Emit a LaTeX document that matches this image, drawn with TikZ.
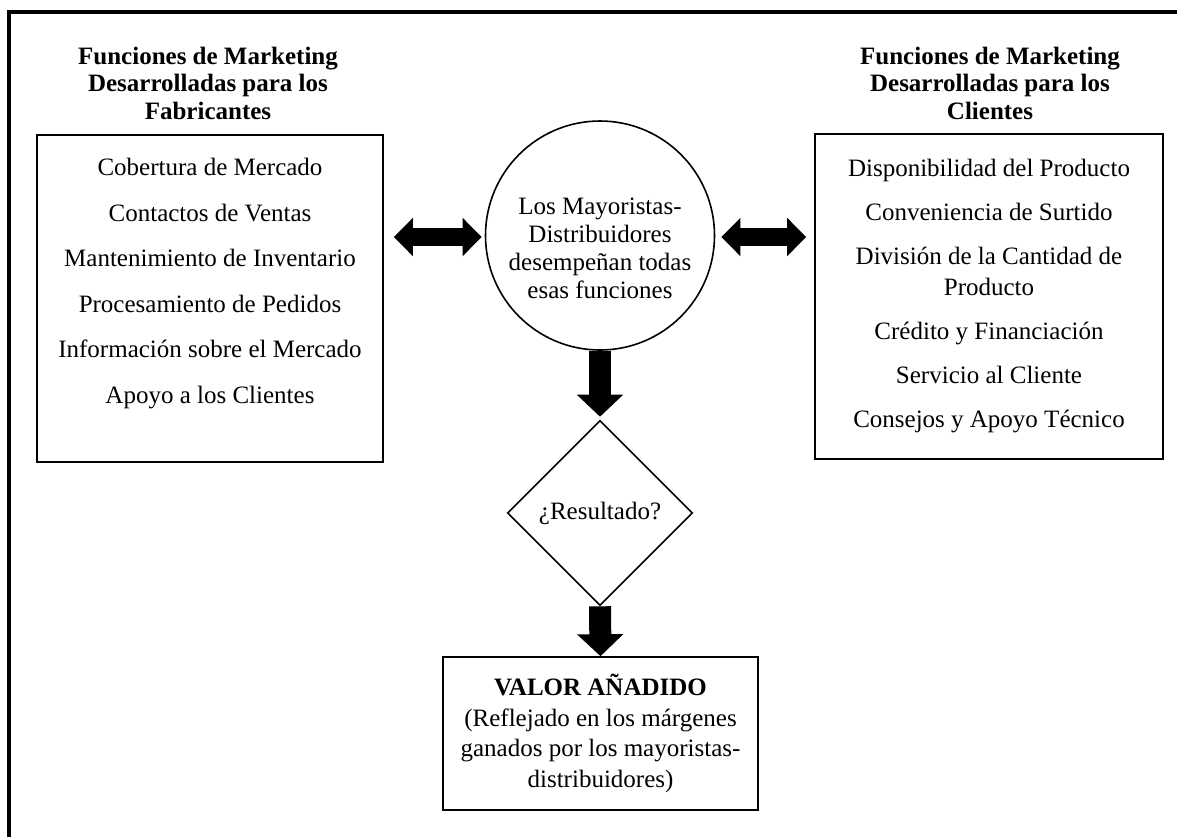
\documentclass[tikz,border=0pt]{standalone}
\usepackage{fontspec}
\setmainfont{Liberation Serif}
\usetikzlibrary{arrows.meta,shapes.geometric,calc}
\begin{document}
\begin{tikzpicture}[x=0.5pt,y=-0.5pt,
  hdr/.style={font=\bfseries\fontsize{12.5}{13.75}\selectfont, align=center, inner sep=0},
  listbox/.style={draw, line width=0.8pt, inner sep=0},
  listtxt/.style={align=center, inner sep=0},
  harrow/.style={line width=9pt, {Triangle[width=18.5pt,length=9.5pt]}-{Triangle[width=18.5pt,length=9.5pt]}},
  varrow/.style={line width=11pt, -{Triangle[width=22.5pt,length=11pt]}},
  frame/.style={line width=1.8pt}
]
\useasboundingbox (0,0) rectangle (1177,837);
\draw[frame] (9,837) -- (9,12) -- (1177,12);

% headers
\node[hdr] (lhdr) at (208,83) {Funciones de Marketing\\Desarrolladas para los\\Fabricantes};
\node[hdr] (rhdr) at (990,83) {Funciones de Marketing\\Desarrolladas para los\\Clientes};

% left list
\node[listbox, minimum width=173pt, minimum height=163.5pt] (lbox) at (210,298.5) {};
\node[listtxt, font=\fontsize{12.5}{22.75}\selectfont] (ltxt) at (210,283.5)
  {Cobertura de Mercado\\Contactos de Ventas\\Mantenimiento de Inventario\\Procesamiento de Pedidos\\Información sobre el Mercado\\Apoyo a los Clientes};

% right list
\node[listbox, minimum width=174pt, minimum height=162.5pt] (rbox) at (989,296.5) {};
\node[listtxt, font=\fontsize{12.5}{15.5}\selectfont] (rtxt) at (989,296)
  {Disponibilidad del Producto\\[6.5pt]Conveniencia de Surtido\\[6.5pt]División de la Cantidad de\\Producto\\[6.5pt]Crédito y Financiación\\[6.5pt]Servicio al Cliente\\[6.5pt]Consejos y Apoyo Técnico};

% circle
\node[circle, draw, line width=0.8pt, minimum size=114.5pt, inner sep=0] (circ) at (600,235.5) {};
\node[listtxt, font=\fontsize{12.5}{14}\selectfont] (ctxt) at (600,248)
  {Los Mayoristas-\\Distribuidores\\desempeñan todas\\esas funciones};

% diamond
\node[diamond, draw, line width=0.8pt, aspect=1, minimum width=92.5pt, minimum height=92.5pt, inner sep=0,
  font=\fontsize{12.5}{14}\selectfont] (dia) at (600,513) {¿Resultado?};

% value box
\node[draw, line width=0.8pt, minimum width=157.5pt, minimum height=76.5pt, inner sep=0, align=center,
  font=\fontsize{12.5}{15.3}\selectfont] (vbox) at (600.5,733.5)
  {\textbf{VALOR AÑADIDO}\\(Reflejado en los márgenes\\ganados por los mayoristas-\\distribuidores)};

% arrows
\draw[harrow] ($(lbox.east |- circ.center)+(10,1.5)$) -- ($(circ.west)+(-3,1.5)$);
\draw[harrow] ($(circ.east)+(6,1.5)$) -- ($(rbox.west |- circ.center)+(-8,1.5)$);
\draw[varrow] (circ.south) -- ($(dia.north)+(0,-3)$);
\draw[varrow] (dia.south) -- (vbox.north);
\end{tikzpicture}
\end{document}
